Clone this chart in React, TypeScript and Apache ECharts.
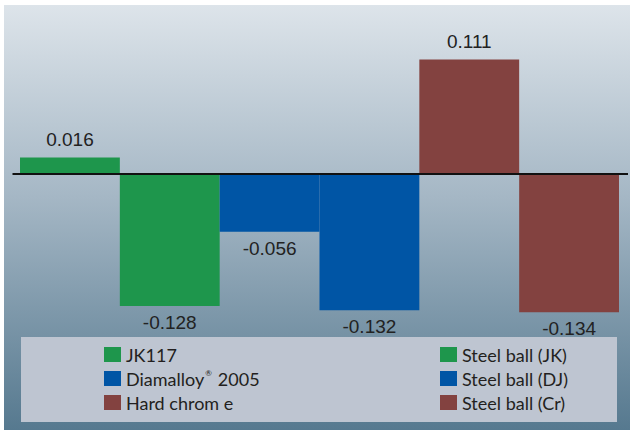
import React, { useEffect, useRef } from "react";
import * as echarts from "echarts";

const categories = ["JK117", "Steel ball (JK)", "Diamalloy® 2005", "Steel ball (DJ)", "Hard chrom e", "Steel ball (Cr)"];
const values = [0.016, -0.128, -0.056, -0.132, 0.111, -0.134];
const colors = ["#1e964c", "#1e964c", "#0055a5", "#0055a5", "#834240", "#834240"];
const legendLeft = ["JK117", "Diamalloy® 2005", "Hard chrom e"];
const legendRight = ["Steel ball (JK)", "Steel ball (DJ)", "Steel ball (Cr)"];

export default function App() {
  const ref = useRef<HTMLDivElement>(null);
  useEffect(() => {
    if (!ref.current) return;
    const chart = echarts.init(ref.current, undefined, { renderer: "svg" });
    const series = categories.map((name, i) => ({
      name,
      type: "bar",
      stack: "all",
      barWidth: "100%",
      itemStyle: { color: colors[i] },
      data: categories.map((_, j) =>
        j === i
          ? {
              value: values[i],
              label: {
                show: true,
                position: values[i] >= 0 ? "top" : "bottom",
                distance: values[i] >= 0 ? 9 : 7,
                formatter: (p: any) => String(p.value),
                fontFamily: "Liberation Sans, Arial, sans-serif",
                fontSize: 19,
                color: "#222222",
              },
            }
          : "-"
      ),
    }));
    const legendCommon = {
      orient: "vertical",
      top: 345,
      padding: 0,
      itemWidth: 17,
      itemHeight: 15,
      itemGap: 5,
      icon: "rect",
      selectedMode: false,
      textStyle: {
        fontFamily: "Lato, 'Open Sans', sans-serif",
        fontSize: 18,
        lineHeight: 19,
        color: "#231f20",
        rich: {
          b: { fontFamily: "Lato, 'Open Sans', sans-serif", fontSize: 18, color: "#231f20" },
          s: { fontFamily: "Lato, 'Open Sans', sans-serif", fontSize: 8, color: "#231f20", verticalAlign: "top", padding: [0, 6, 8, 1] },
        },
      },
      formatter: (name: string) => (name === "Diamalloy® 2005" ? "{b|Diamalloy}{s|®}{b|2005}" : name),
    };
    chart.setOption({
      animation: false,
      grid: { left: 20, right: 11, top: 9, bottom: 91, containLabel: false },
      xAxis: {
        type: "category",
        data: categories,
        show: false,
      },
      yAxis: {
        type: "value",
        min: -0.16,
        max: 0.16,
        show: false,
      },
      legend: [
        { ...legendCommon, left: 104, data: legendLeft },
        { ...legendCommon, left: 440, data: legendRight },
      ],
      graphic: [
        {
          type: "rect",
          z: -10,
          silent: true,
          shape: { x: 4, y: 5, width: 626, height: 425 },
          style: {
            fill: new echarts.graphic.LinearGradient(0, 0, 0, 1, [
              { offset: 0, color: "#dde4ea" },
              { offset: 0.45, color: "#a5b7c5" },
              { offset: 1, color: "#56798f" },
            ]),
          },
        },
        {
          type: "rect",
          z: -5,
          silent: true,
          shape: { x: 21, y: 337, width: 596, height: 85 },
          style: { fill: "#bec5d1" },
        },
      ],
      series,
    });
    const y0 = chart.convertToPixel({ yAxisIndex: 0 }, 0) as number;
    chart.setOption({
      graphic: [
        {},
        {},
        {
          type: "line",
          z: 10,
          silent: true,
          shape: { x1: 12.5, y1: y0, x2: 628, y2: y0 },
          style: { stroke: "#111111", lineWidth: 2 },
        },
      ],
    });
    return () => chart.dispose();
  }, []);
  return (
    <div
      ref={ref}
      style={{ position: "absolute", left: 0, top: 0, width: 630, height: 430, background: "#ffffff" }}
    />
  );
}
